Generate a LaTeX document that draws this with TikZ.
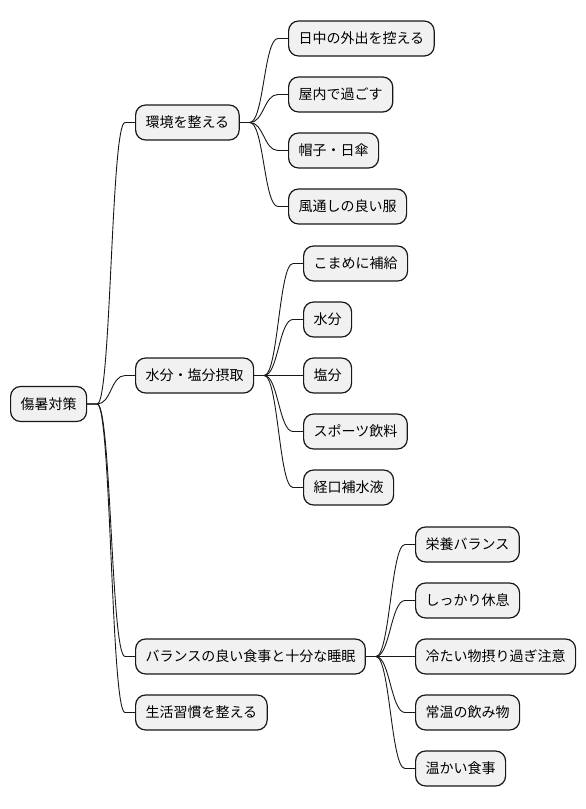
\documentclass[tikz,border=0pt]{standalone}
\usepackage{fontspec}
\newfontfamily\jpfont{Noto Sans CJK JP}
\usetikzlibrary{calc}
\definecolor{boxfill}{HTML}{F1F1F1}
\definecolor{boxline}{HTML}{181818}
\tikzset{
  mm/.style={draw=boxline, fill=boxfill, rounded corners=10pt, line width=1.2pt,
    inner xsep=10pt, inner ysep=0pt, minimum height=35pt,
    text height=12pt, text depth=2pt, anchor=west,
    font=\jpfont\fontsize{14}{16}\selectfont},
  link/.style={draw=boxline, line width=0.9pt}
}
\newcommand\mmlink[2]{%
  \draw[link] (#1.east) -- ++(10pt,0)
    .. controls +(14pt,0) and ($(#2.west)+(-24pt,0)$) .. ($(#2.west)+(-10pt,0)$)
    -- (#2.west);}
\begin{document}
\begin{tikzpicture}[x=1pt,y=-1pt]
\useasboundingbox (0,0) rectangle (586,809);
% root
\node[mm] (root) at (10,404) {傷暑対策};
% level 1
\node[mm] (env) at (135,122.5) {環境を整える};
\node[mm] (water) at (135,375.5) {水分・塩分摂取};
\node[mm] (bal) at (135,656.5) {バランスの良い食事と十分な睡眠};
\node[mm] (life) at (135,712.5) {生活習慣を整える};
% env children
\node[mm] (e1) at (288,38.5) {日中の外出を控える};
\node[mm] (e2) at (288,94.5) {屋内で過ごす};
\node[mm] (e3) at (288,150.5) {帽子・日傘};
\node[mm] (e4) at (288,206.5) {風通しの良い服};
% water children
\node[mm] (w1) at (303,263.5) {こまめに補給};
\node[mm] (w2) at (303,319.5) {水分};
\node[mm] (w3) at (303,375.5) {塩分};
\node[mm] (w4) at (303,431.5) {スポーツ飲料};
\node[mm] (w5) at (303,487.5) {経口補水液};
% balance children
\node[mm] (b1) at (415,544.5) {栄養バランス};
\node[mm] (b2) at (415,600.5) {しっかり休息};
\node[mm] (b3) at (415,656.5) {冷たい物摂り過ぎ注意};
\node[mm] (b4) at (415,712.5) {常温の飲み物};
\node[mm] (b5) at (415,768.5) {温かい食事};
% links
\mmlink{root}{env}
\mmlink{root}{water}
\mmlink{root}{bal}
\mmlink{root}{life}
\mmlink{env}{e1}
\mmlink{env}{e2}
\mmlink{env}{e3}
\mmlink{env}{e4}
\mmlink{water}{w1}
\mmlink{water}{w2}
\mmlink{water}{w3}
\mmlink{water}{w4}
\mmlink{water}{w5}
\mmlink{bal}{b1}
\mmlink{bal}{b2}
\mmlink{bal}{b3}
\mmlink{bal}{b4}
\mmlink{bal}{b5}
\end{tikzpicture}
\end{document}
